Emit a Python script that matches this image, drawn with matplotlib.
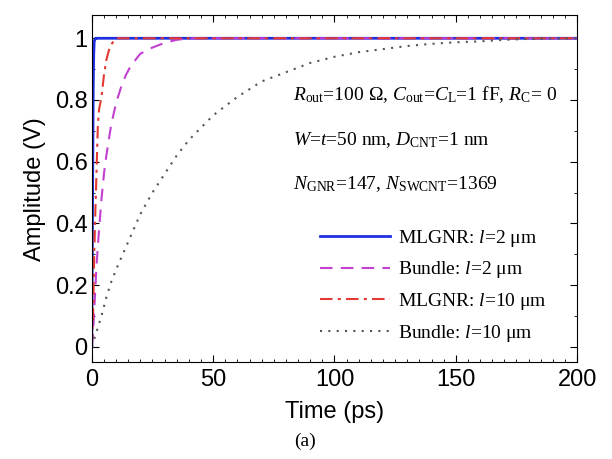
import matplotlib
matplotlib.use('Agg')
import matplotlib.pyplot as plt
from matplotlib.ticker import MultipleLocator

# datos (tiempo en ps, amplitud en V)
t_mlgnr_2 = [0, 0.2, 0.4, 0.6, 0.8, 1.0, 1.5, 2, 200]
v_mlgnr_2 = [0, 0.3, 0.6, 0.85, 0.95, 0.99, 1.0, 1.0, 1.0]

t_bundle_2 = [0, 0.5, 1, 2, 3, 4, 5, 6, 8, 10, 12, 14, 16, 18, 20, 25, 30, 35, 40, 200]
v_bundle_2 = [0, 0.04, 0.12, 0.27, 0.38, 0.48, 0.56, 0.62, 0.72, 0.79, 0.84, 0.88,
              0.91, 0.93, 0.95, 0.97, 0.985, 0.995, 1.0, 1.0]

t_mlgnr_10 = [0, 0.5, 1.0, 1.5, 2.0, 2.5, 3.0, 3.5, 4.0, 5.0, 6.0, 7.0, 8.0, 9.0, 10, 12, 200]
v_mlgnr_10 = [0, 0.1, 0.3, 0.45, 0.58, 0.72, 0.77, 0.79, 0.81, 0.88, 0.93, 0.96,
              0.98, 0.99, 1.0, 1.0, 1.0]

t_bundle_10 = [0, 2, 4, 6, 8, 10, 15, 20, 25, 30, 35, 40, 50, 60, 70, 80, 90, 100,
               110, 120, 130, 140, 150, 160, 170, 180, 200]
v_bundle_10 = [0, 0.05, 0.10, 0.16, 0.21, 0.25, 0.34, 0.43, 0.50, 0.56, 0.62, 0.67,
               0.75, 0.81, 0.86, 0.89, 0.92, 0.94, 0.955, 0.965, 0.975, 0.982, 0.987,
               0.99, 0.995, 0.998, 1.0]

etiquetas = [r'MLGNR: $l$=2 μm', r'Bundle: $l$=2 μm', r'MLGNR: $l$=10 μm', r'Bundle: $l$=10 μm']

plt.rcParams['mathtext.fontset'] = 'custom'
plt.rcParams['mathtext.rm'] = 'Liberation Serif'
plt.rcParams['mathtext.it'] = 'Liberation Serif:italic'
plt.rcParams['font.family'] = ['Liberation Sans', 'DejaVu Sans']

fig = plt.figure(figsize=(6.12, 4.59), dpi=100)
ax = fig.add_axes([0.150, 0.211, 0.793, 0.756])

ax.plot(t_mlgnr_2, v_mlgnr_2, color='#1f2fe0', lw=2.0, ls='-', label=etiquetas[0])
ax.plot(t_bundle_2, v_bundle_2, color='#c23fd0', lw=1.5, ls=(0, (6, 4)), label=etiquetas[1])
ax.plot(t_mlgnr_10, v_mlgnr_10, color='#e23a33', lw=1.5, ls=(0, (6, 2.5, 1.5, 2.5)), label=etiquetas[2])
ax.plot(t_bundle_10, v_bundle_10, color='#555555', lw=1.5, ls=(0, (1, 3)), label=etiquetas[3])

ax.set_xlim(0, 200)
ax.set_ylim(-0.05, 1.075)
ax.set_xticks([0, 50, 100, 150, 200])
ax.set_yticks([0, 0.2, 0.4, 0.6, 0.8, 1])
ax.set_yticklabels(['0', '0.2', '0.4', '0.6', '0.8', '1'])
ax.xaxis.set_minor_locator(MultipleLocator(5))
ax.yaxis.set_minor_locator(MultipleLocator(0.1))
ax.tick_params(which='both', direction='in', top=True, right=True, labelsize=17)
ax.tick_params(which='major', length=5)
ax.tick_params(which='minor', length=2.5)
ax.tick_params(axis='x', pad=5)
ax.tick_params(axis='y', pad=3)

ax.set_xlabel('Time (ps)', fontsize=17, labelpad=7)
ax.set_ylabel('Amplitude (V)', fontsize=17, labelpad=6)

# textos de parámetros
ax.text(0.414, 0.772, r'$R_{\rm out}$=100 Ω, $C_{\rm out}$=$C_{\rm L}$=1 fF, $R_{\rm C}$= 0',
        transform=ax.transAxes, fontsize=14, family='Liberation Serif', va='center')
ax.text(0.414, 0.64, r'$W$=$t$=50 nm, $D_{\rm CNT}$=1 nm',
        transform=ax.transAxes, fontsize=14, family='Liberation Serif', va='center')
ax.text(0.414, 0.514, r'$N_{\rm GNR}$=147, $N_{\rm SWCNT}$=1369',
        transform=ax.transAxes, fontsize=14, family='Liberation Serif', va='center')

leg = ax.legend(loc='lower left', bbox_to_anchor=(0.470, 0.053), frameon=False,
                prop={'family': 'Liberation Serif', 'size': 14},
                handlelength=3.6, handletextpad=0.4, labelspacing=0.55,
                borderpad=0, borderaxespad=0)

fig.text(0.498, 0.038, '(a)', fontsize=14, family='Liberation Serif', ha='center', va='center')

fig.savefig('out.png', dpi=100)
